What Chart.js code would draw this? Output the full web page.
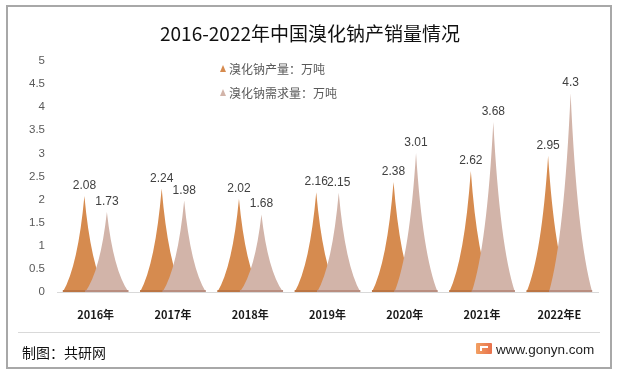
<!DOCTYPE html>
<html>
<head>
<meta charset="utf-8">
<script src="https://cdn.jsdelivr.net/npm/chart.js@4.4.1/dist/chart.umd.min.js"></script>
<style>
html,body{margin:0;padding:0;background:#fff;}
#wrap{position:relative;width:618px;height:373px;overflow:hidden;background:#fff;font-family:"Liberation Sans","Noto Sans CJK SC",sans-serif;}
#frame{position:absolute;left:6px;top:5px;width:606px;height:364px;border:2px solid #A8A8A8;box-sizing:border-box;}
#c{position:absolute;left:0;top:0;}
#title{position:absolute;left:0;width:620px;top:21px;text-align:center;font-family:"Noto Sans CJK SC",sans-serif;font-size:19px;line-height:24px;color:#111;}
.lg{position:absolute;left:229px;font-family:"Noto Sans CJK SC",sans-serif;font-size:12px;line-height:16px;color:#595959;white-space:nowrap;}
.tri{position:absolute;width:0;height:0;border-left:3px solid transparent;border-right:3px solid transparent;border-bottom:7px solid #D68B4F;}
#sep{position:absolute;left:18px;top:332px;width:582px;height:1px;background:#D9D9D9;}
#src{position:absolute;left:22px;top:342px;font-family:"Noto Sans CJK SC",sans-serif;font-size:14px;line-height:20px;color:#111;}
#web{position:absolute;left:496px;top:341px;font-family:"Liberation Sans",sans-serif;font-size:13.5px;line-height:17px;color:#222;}
#logo{position:absolute;left:476px;top:343px;width:16px;height:11px;background:linear-gradient(90deg,#F2A062,#E8714C);border-radius:1px;}
#logo i{position:absolute;left:4px;top:3px;width:8px;height:2px;background:#fff;}
#logo b{position:absolute;left:4px;top:3px;width:2px;height:5px;background:#fff;}
</style>
</head>
<body>
<div id="wrap">
  <canvas id="c" width="618" height="373"></canvas>
  <div id="frame"></div>
  <div id="title">2016-2022年中国溴化钠产销量情况</div>
  <div class="tri" style="left:220px;top:65px;"></div>
  <div class="lg" style="top:61px;">溴化钠产量：万吨</div>
  <div class="tri" style="left:220px;top:89px;border-bottom-color:#D2B4A9;"></div>
  <div class="lg" style="top:85px;">溴化钠需求量：万吨</div>
  <div id="sep"></div>
  <div id="src">制图：共研网</div>
  <div id="logo"><i></i><b></b></div>
  <div id="web">www.gonyn.com</div>
</div>
<script>
const categories = ["2016年","2017年","2018年","2019年","2020年","2021年","2022年E"];
const production = [2.08, 2.24, 2.02, 2.16, 2.38, 2.62, 2.95];
const demand = [1.73, 1.98, 1.68, 2.15, 3.01, 3.68, 4.3];
const seriesNames = ["溴化钠产量：万吨","溴化钠需求量：万吨"];

Chart.defaults.font.family = '"Liberation Sans","Noto Sans CJK SC",sans-serif';

const spikePlugin = {
  id: 'spikes',
  afterDatasetsDraw(chart) {
    const ctx = chart.ctx;
    ctx.save();
    chart.data.datasets.forEach((ds, di) => {
      const meta = chart.getDatasetMeta(di);
      meta.data.forEach((el) => {
        const p = el.getProps(['x','y','base','width'], true);
        const hw = p.width * 0.96;
        const h = p.base - p.y;
        ctx.beginPath();
        ctx.moveTo(p.x - hw, p.base);
        ctx.quadraticCurveTo(p.x - hw * 0.3, p.base - h * 0.27, p.x, p.y);
        ctx.quadraticCurveTo(p.x + hw * 0.3, p.base - h * 0.27, p.x + hw, p.base);
        ctx.closePath();
        ctx.fillStyle = ds.spikeColor;
        ctx.fill();
        ctx.fillStyle = ds.baseColor;
        ctx.fillRect(p.x - hw, p.base - 2, hw * 2, 2);
      });
    });
    ctx.font = '12px "Liberation Sans","Noto Sans CJK SC",sans-serif';
    ctx.fillStyle = '#404040';
    ctx.textAlign = 'center';
    ctx.textBaseline = 'alphabetic';
    chart.data.datasets.forEach((ds, di) => {
      const meta = chart.getDatasetMeta(di);
      meta.data.forEach((el, i) => {
        const p = el.getProps(['x','y'], true);
        ctx.fillText(String(ds.data[i]), p.x, p.y - 7);
      });
    });
    ctx.restore();
  }
};

new Chart(document.getElementById('c'), {
  type: 'bar',
  data: {
    labels: categories,
    datasets: [
      { label: seriesNames[0], data: production, backgroundColor: 'rgba(0,0,0,0)', spikeColor: '#D68B4F', baseColor: '#BC7543' },
      { label: seriesNames[1], data: demand, backgroundColor: 'rgba(0,0,0,0)', spikeColor: '#D2B4A9', baseColor: '#B98E80' }
    ]
  },
  options: {
    responsive: false,
    animation: false,
    devicePixelRatio: 1,
    layout: { padding: { top: 61, right: 20, left: 0, bottom: 0 } },
    datasets: { bar: { categoryPercentage: 0.582, barPercentage: 1.0 } },
    plugins: { legend: { display: false }, tooltip: { enabled: false }, title: { display: false } },
    scales: {
      x: {
        grid: { display: false, drawTicks: false },
        border: { display: true, color: '#D9D9D9', width: 1 },
        ticks: { padding: 16, maxRotation: 0, color: '#1a1a1a', font: { size: 11, weight: 'bold', family: '"Noto Sans CJK SC",sans-serif' } },
        afterFit(s) { s.height = 81; }
      },
      y: {
        min: 0, max: 5,
        grid: { display: false, drawTicks: false },
        border: { display: false },
        ticks: { stepSize: 0.5, padding: 12, color: '#595959', font: { size: 11.5 },
                 callback: (v) => String(Math.round(v * 10) / 10) },
        afterFit(s) { s.width = 57; }
      }
    }
  },
  plugins: [spikePlugin]
});
</script>
</body>
</html>
